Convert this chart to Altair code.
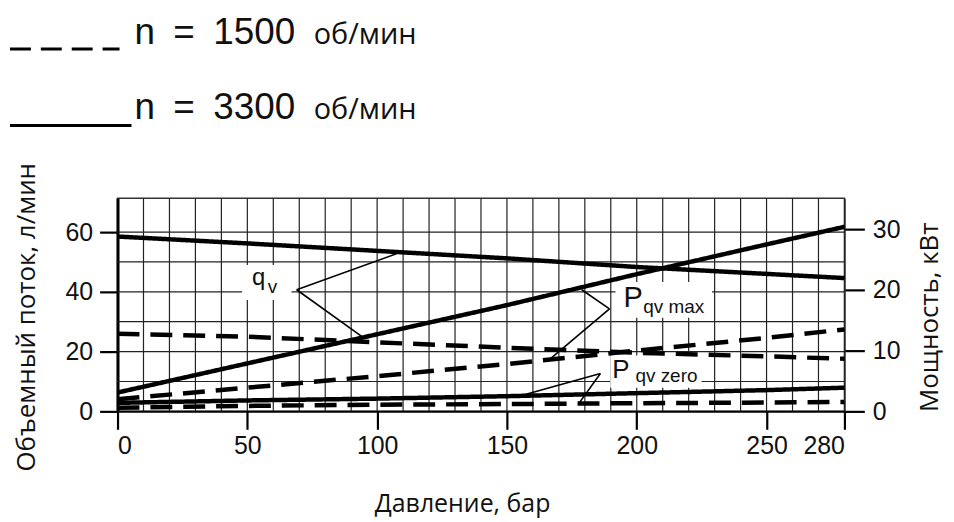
import altair as alt
import pandas as pd

# ---- data ----
pressure = [0, 50, 100, 150, 200, 250, 280]
flow_3300 = [58.5, 56.2, 53.7, 51.2, 48.3, 46.0, 44.6]
flow_1500 = [26.0, 25.0, 23.1, 21.3, 19.6, 18.4, 17.6]
pmax_3300 = [3.1, 7.9, 12.7, 17.5, 22.6, 27.5, 30.4]
pmax_1500 = [2.0, 3.9, 5.8, 7.8, 10.0, 12.1, 13.5]
pzero_3300 = [1.4, 1.8, 2.1, 2.5, 3.0, 3.5, 3.9]
pzero_1500 = [0.6, 0.9, 1.1, 1.2, 1.35, 1.45, 1.55]

x_ticks = [0, 50, 100, 150, 200, 250, 280]
flow_ticks = [0, 20, 40, 60]
power_ticks = [0, 10, 20, 30]
x_grid = [10, 20, 30, 40, 50, 60, 70, 80, 90, 100, 110, 120, 130, 140, 150,
          160, 170, 180, 190, 200, 210, 220, 230, 240, 250, 260, 270]
flow_grid = [10, 20, 30, 40, 50, 60]

legend_labels = ["n\u2002=\u20021500", "n\u2002=\u20023300"]
legend_unit = "об/мин"
x_title = "Давление, бар"
flow_title = "Объемный поток, л/мин"
power_title = "Мощность, кВт"

# annotation labels (in pressure / flow units)
ann_text = ["q", "v", "P", "qv max", "P", "qv zero"]
ann_x = [51.8, 57.9, 194.9, 202.5, 190.6, 199.5]
ann_y = [42.3, 39.7, 35.0, 33.0, 11.3, 9.7]
ann_size = [24, 19, 29, 19, 26, 19]

box_x = [48.0, 191.8, 189.8]
box_x2 = [67.0, 229.0, 225.0]
box_y = [49.0, 43.3, 18.7]
box_y2 = [37.3, 31.3, 7.9]

lead_x = [69.0, 69.0, 189.5, 189.5, 186.0, 186.0]
lead_y = [40.7, 40.7, 34.3, 34.3, 12.7, 12.7]
lead_x2 = [107.4, 94.7, 178.8, 166.9, 156.0, 178.0]
lead_y2 = [52.7, 24.7, 40.7, 17.7, 5.4, 3.0]

XS = alt.Scale(domain=[0, 280], nice=False, zero=False)
YL = alt.Scale(domain=[0, 71.3], nice=False, zero=False)
YR = alt.Scale(domain=[0, 35.1], nice=False, zero=False)

TICK_FONT = "Liberation Sans"
TITLE_FONT = "Open Sans"

flow_df = pd.DataFrame({
    "p": pressure * 2,
    "v": flow_3300 + flow_1500,
    "n": ["3300"] * 7 + ["1500"] * 7,
})
power_df = pd.DataFrame({
    "p": pressure * 4,
    "v": pmax_3300 + pzero_3300 + pmax_1500 + pzero_1500,
    "s": ["max3300"] * 7 + ["zero3300"] * 7 + ["max1500"] * 7 + ["zero1500"] * 7,
    "n": ["3300"] * 14 + ["1500"] * 14,
})

x_axis = alt.Axis(values=x_ticks, grid=False, tickSize=18, tickWidth=2.2, tickColor="black",
                  domainColor="black", domainWidth=2, labelFont=TICK_FONT, labelFontSize=25,
                  labelColor="#111", labelPadding=4, title=x_title, titleFont=TITLE_FONT,
                  titleFontSize=25, titleFontWeight="normal", titleColor="#111",
                  titleBaseline="alphabetic", titleY=101, titleX=346)
left_axis = alt.Axis(values=flow_ticks, grid=False, tickSize=18, tickWidth=2.2, tickColor="black",
                     domainColor="black", domainWidth=3, labelFont=TICK_FONT, labelFontSize=25,
                     labelColor="#111", labelPadding=7, title=flow_title, titleFont=TITLE_FONT,
                     titleFontSize=26, titleFontWeight="normal", titleColor="#111",
                     titleAngle=270, titleBaseline="middle", titleAlign="center",
                     titleX=-91, titleY=119)
right_axis = alt.Axis(orient="right", values=power_ticks, grid=False, tickSize=20, tickWidth=2.2,
                      tickColor="black", domainColor="#222", domainWidth=1.5, labelFont=TICK_FONT,
                      labelFontSize=25, labelColor="#111", labelPadding=8, title=power_title,
                      titleFont=TITLE_FONT, titleFontSize=26, titleFontWeight="normal",
                      titleColor="#111", titleAngle=270, titleBaseline="middle",
                      titleAlign="center", titleX=85, titleY=119)

grid_v = alt.Chart(pd.DataFrame({"g": x_grid})).mark_rule(color="#222", strokeWidth=1.2).encode(
    x=alt.X("g:Q", scale=XS, axis=x_axis))
grid_h = alt.Chart(pd.DataFrame({"g": flow_grid})).mark_rule(color="#222", strokeWidth=1.2).encode(
    y=alt.Y("g:Q", scale=YL, axis=left_axis))

boxes = alt.Chart(pd.DataFrame({"x": box_x, "x2": box_x2, "y": box_y, "y2": box_y2})).mark_rect(
    color="white").encode(
    x=alt.X("x:Q", scale=XS, axis=x_axis), x2="x2:Q",
    y=alt.Y("y:Q", scale=YL, axis=left_axis), y2="y2:Q")

leaders = alt.Chart(pd.DataFrame({"x": lead_x, "y": lead_y, "x2": lead_x2, "y2": lead_y2})).mark_rule(
    color="black", strokeWidth=1.6).encode(
    x=alt.X("x:Q", scale=XS, axis=x_axis), x2="x2:Q",
    y=alt.Y("y:Q", scale=YL, axis=left_axis), y2="y2:Q")

labels = alt.Chart(pd.DataFrame({"t": ann_text, "x": ann_x, "y": ann_y, "s": ann_size})).mark_text(
    align="left", baseline="alphabetic", font=TICK_FONT, color="#111").encode(
    x=alt.X("x:Q", scale=XS, axis=x_axis),
    y=alt.Y("y:Q", scale=YL, axis=left_axis),
    text="t:N",
    size=alt.Size("s:Q", scale=None, legend=None))

dash = alt.StrokeDash("n:N", scale=alt.Scale(domain=["3300", "1500"], range=[[1, 0], [22, 11]]),
                      legend=None)

flow_lines = alt.Chart(flow_df).mark_line(color="black", strokeWidth=4.5, strokeCap="butt").encode(
    x=alt.X("p:Q", scale=XS, axis=x_axis),
    y=alt.Y("v:Q", scale=YL, axis=left_axis),
    strokeDash=dash,
    detail="n:N",
)

power_lines = alt.Chart(power_df).mark_line(color="black", strokeWidth=4.5, strokeCap="butt").encode(
    x=alt.X("p:Q", scale=XS, axis=x_axis),
    y=alt.Y("v:Q", scale=YR, axis=right_axis),
    strokeDash=dash,
    detail="s:N",
)

# header legend drawn as plain marks above the plot
one = pd.DataFrame({"a": [0]})
leg_dash = alt.Chart(one).mark_rule(
    color="black", strokeWidth=3, strokeDash=[21, 10], strokeCap="butt").encode(
    x=alt.value(-108), x2=alt.value(2), y=alt.value(-150))
leg_solid = alt.Chart(one).mark_rule(
    color="black", strokeWidth=3, strokeCap="butt").encode(
    x=alt.value(-108), x2=alt.value(14), y=alt.value(-73))
leg_t1 = alt.Chart(one).mark_text(
    align="left", baseline="alphabetic", font=TICK_FONT, fontSize=37, color="#111").encode(
    x=alt.value(17), y=alt.value(-155), text=alt.value(legend_labels[0]))
leg_t2 = alt.Chart(one).mark_text(
    align="left", baseline="alphabetic", font=TICK_FONT, fontSize=37, color="#111").encode(
    x=alt.value(17), y=alt.value(-80), text=alt.value(legend_labels[1]))
leg_u1 = alt.Chart(one).mark_text(
    align="left", baseline="alphabetic", font=TITLE_FONT, fontSize=29, color="#111").encode(
    x=alt.value(197), y=alt.value(-155), text=alt.value(legend_unit))
leg_u2 = alt.Chart(one).mark_text(
    align="left", baseline="alphabetic", font=TITLE_FONT, fontSize=29, color="#111").encode(
    x=alt.value(197), y=alt.value(-80), text=alt.value(legend_unit))

left = alt.layer(grid_v, grid_h, boxes, leaders, labels, flow_lines,
                 leg_dash, leg_solid, leg_t1, leg_t2, leg_u1, leg_u2)
right = alt.layer(power_lines)

chart = alt.layer(left, right).resolve_scale(y="independent").properties(
    width=730, height=214,
    padding={"left": 110, "top": 190, "right": 102, "bottom": 106},
    autosize=alt.AutoSizeParams(type="none"),
    background="white",
).configure_view(stroke="#333", strokeWidth=1.5)

chart.save("out.html", embed_options={"renderer": "svg", "actions": False})
